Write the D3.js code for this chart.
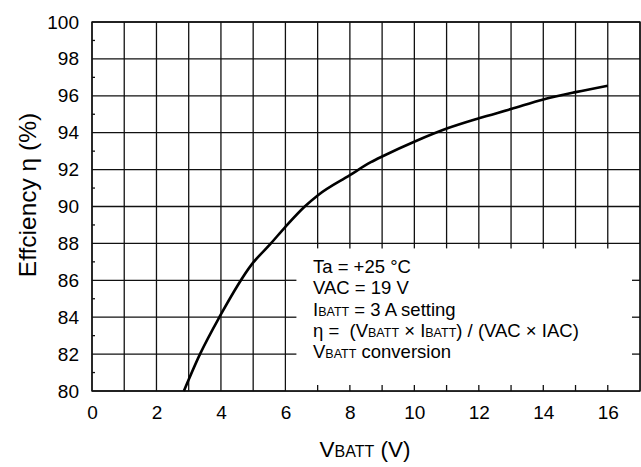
<!DOCTYPE html>
<html>
<head>
    <title>Efficiency vs VBATT</title>
    <script src="https://d3js.org/d3.v7.min.js"></script>
</head>
<style>
    body { margin: 0; background: #fff; }
    text { font-family: Arial, "Liberation Sans", sans-serif; fill: #000; }
</style>
<body>
    <svg class='chart'></svg>
</body>
<script>
// curve
const vbatt = [2.85, 3.35, 3.95, 4.95, 5.55, 6.0, 6.6, 7, 8, 8.65, 9.05, 10.05, 11.05, 12, 13, 14, 15, 16];
const eff   = [80, 82, 84, 86.85, 88, 88.9, 90, 90.6, 91.7, 92.4, 92.75, 93.55, 94.25, 94.78, 95.28, 95.8, 96.2, 96.55];

// tick labels
const xTickLabels = [0, 2, 4, 6, 8, 10, 12, 14, 16];
const yTickLabels = [80, 82, 84, 86, 88, 90, 92, 94, 96, 98, 100];
const xGrid = [0, 1, 2, 3, 4, 5, 6, 7, 8, 9, 10, 11, 12, 13, 14, 15, 16, 17];
const yMinor = [81, 83, 85, 87, 89, 91, 93, 95, 97, 99];

// notes box (in data units)
const boxX = [6, 17];
const boxY = [80, 88];

var width = 641, height = 467;

var svg = d3.select(".chart")
    .attr("width", width)
    .attr("height", height);

var x = d3.scaleLinear().domain([0, 17]).range([92, 640]);
var y = d3.scaleLinear().domain([80, 100]).range([391, 22]);

var grid = svg.append("g").attr("stroke", "#111").attr("stroke-width", 1.3);

//vertical grid
grid.selectAll(".vg")
    .data(xGrid)
    .enter().append("line")
    .attr("x1", d => x(d)).attr("x2", d => x(d))
    .attr("y1", y(80)).attr("y2", y(100));

//horizontal grid
grid.selectAll(".hg")
    .data(yTickLabels)
    .enter().append("line")
    .attr("x1", x(0)).attr("x2", x(17))
    .attr("y1", d => y(d)).attr("y2", d => y(d));

// white box for the notes, blanks out the grid inside
svg.append("rect")
    .attr("x", x(boxX[0]) + 0.7)
    .attr("y", y(boxY[1]) + 0.7)
    .attr("width", x(boxX[1]) - x(boxX[0]) - 1.4)
    .attr("height", y(boxY[0]) - y(boxY[1]) - 1.4)
    .attr("fill", "#fff");

var stubs = svg.append("g").attr("stroke", "#111").attr("stroke-width", 1.3);
var inner = xGrid.filter(d => d > boxX[0] && d < boxX[1]);
var innerY = yTickLabels.filter(d => d > boxY[0] && d < boxY[1]);

// ticks hanging from the top of the box
stubs.selectAll(".tt").data(inner).enter().append("line")
    .attr("x1", d => x(d)).attr("x2", d => x(d))
    .attr("y1", y(boxY[1])).attr("y2", y(boxY[1]) + 5);
// ticks rising from the bottom
stubs.selectAll(".bt").data(inner).enter().append("line")
    .attr("x1", d => x(d)).attr("x2", d => x(d))
    .attr("y1", y(boxY[0])).attr("y2", y(boxY[0]) - 6);
// left stubs
stubs.selectAll(".ls").data(innerY).enter().append("line")
    .attr("x1", x(boxX[0])).attr("x2", x(boxX[0]) + 11)
    .attr("y1", d => y(d)).attr("y2", d => y(d));
// right stubs
stubs.selectAll(".rs").data(innerY).enter().append("line")
    .attr("x1", x(boxX[1]) - 8).attr("x2", x(boxX[1]))
    .attr("y1", d => y(d)).attr("y2", d => y(d));
// minor ticks on left axis
stubs.selectAll(".mt").data(yMinor).enter().append("line")
    .attr("x1", x(0)).attr("x2", x(0) + 3)
    .attr("y1", d => y(d)).attr("y2", d => y(d));

// frame
svg.append("rect")
    .attr("x", x(0)).attr("y", y(100))
    .attr("width", x(17) - x(0)).attr("height", y(80) - y(100))
    .attr("fill", "none").attr("stroke", "#111").attr("stroke-width", 1.4);

// curve
var pts = vbatt.map((v, i) => [v, eff[i]]);
svg.append("path")
    .datum(pts)
    .attr("fill", "none")
    .attr("stroke", "#000")
    .attr("stroke-width", 2.6)
    .attr("stroke-linejoin", "round")
    .attr("d", d3.line().x(d => x(d[0])).y(d => y(d[1])).curve(d3.curveMonotoneX));

// axes (labels only)
var xAxis = d3.axisBottom(x).tickValues(xTickLabels).tickSize(0).tickPadding(15).tickFormat(d3.format("d"));
var yAxis = d3.axisLeft(y).tickValues(yTickLabels).tickSize(0).tickPadding(13).tickFormat(d3.format("d"));

svg.append("g")
    .attr("transform", "translate(0," + y(80) + ")")
    .call(xAxis)
    .call(g => g.select(".domain").remove())
    .selectAll("text")
    .style("font-size", "19px")
    .style("font-family", "Arial, 'Liberation Sans', sans-serif")
    .attr("fill", "#000");

svg.append("g")
    .attr("transform", "translate(" + x(0) + ",0)")
    .call(yAxis)
    .call(g => g.select(".domain").remove())
    .selectAll("text")
    .style("font-size", "19px")
    .style("font-family", "Arial, 'Liberation Sans', sans-serif")
    .attr("fill", "#000");

// axis titles
var xt = svg.append("text")
    .attr("x", 365).attr("y", 457)
    .attr("text-anchor", "middle")
    .style("font-size", "22.5px");
xt.append("tspan").text("V");
xt.append("tspan").style("font-size", "16px").text("BATT");
xt.append("tspan").text(" (V)");

svg.append("text")
    .attr("transform", "translate(36,195) rotate(-90)")
    .attr("text-anchor", "middle")
    .style("font-size", "24.5px")
    .text("Effciency η (%)");

// notes
var notes = svg.append("g").attr("transform", "translate(313,273)");
var lh = 21.3;
function line(i) {
    return notes.append("text")
        .attr("x", 0).attr("y", i * lh)
        .style("font-size", "18.5px")
        .style("white-space", "pre");
}
function sub(t, s) { t.append("tspan").style("font-size", "12.5px").text(s); }
function norm(t, s) { t.append("tspan").text(s); }

line(0).text("Ta = +25 °C");
line(1).text("VAC = 19 V");
var l2 = line(2); norm(l2, "I"); sub(l2, "BATT"); norm(l2, " = 3 A setting");
var l3 = line(3); norm(l3, "η =  (V"); sub(l3, "BATT"); norm(l3, " × I"); sub(l3, "BATT"); norm(l3, ") / (VAC × IAC)");
var l4 = line(4); norm(l4, "V"); sub(l4, "BATT"); norm(l4, " conversion");
</script>
</html>
